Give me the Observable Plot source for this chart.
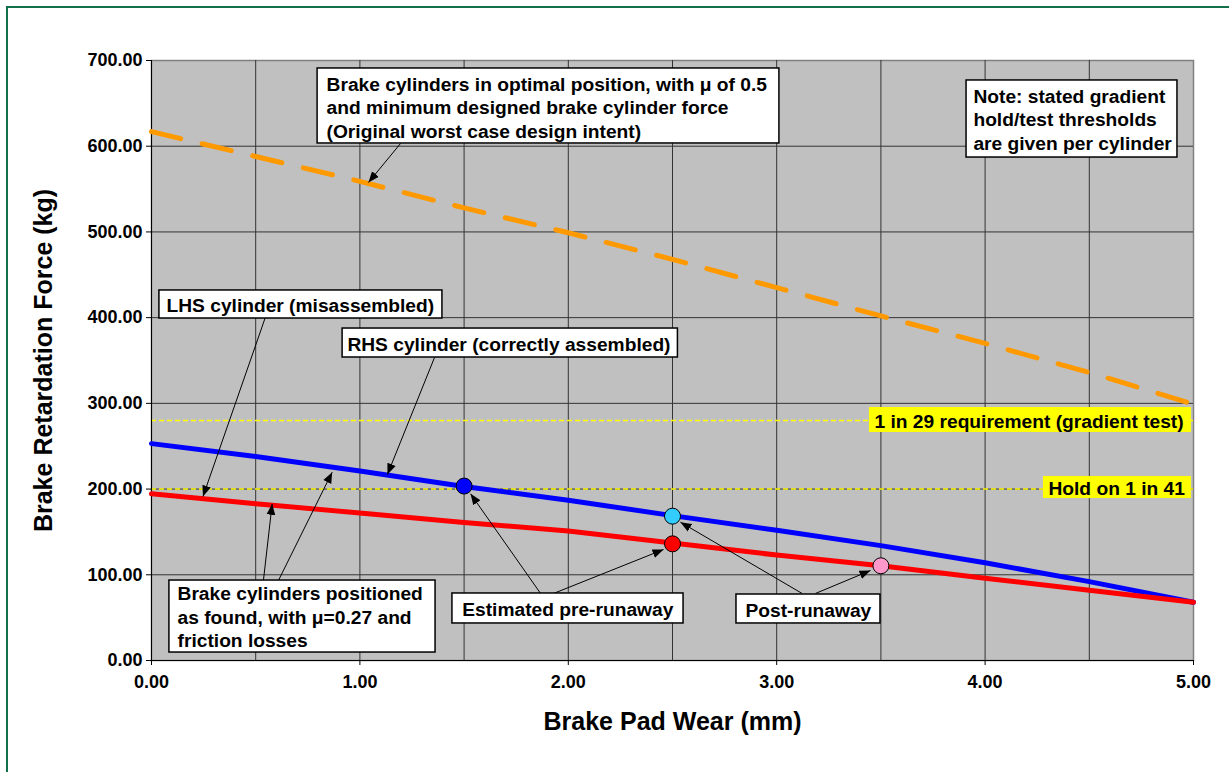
<!DOCTYPE html>
<html>
<head>
<meta charset="utf-8">
<script src="https://cdn.jsdelivr.net/npm/d3@7"></script>
<script src="https://cdn.jsdelivr.net/npm/@observablehq/plot@0.6"></script>
<style>
  html, body { margin: 0; padding: 0; background: #ffffff; overflow: hidden; }
  #wrap { position: relative; width: 1229px; height: 772px; }
  #border { position: absolute; left: 6px; top: 6px; width: 1300px; height: 900px; border: 2px solid #10704a; box-sizing: border-box; pointer-events: none; }
</style>
</head>
<body>
<div id="wrap"><div id="chart"></div><div id="border"></div></div>
<script>
// ---- data ----
const wear = [0, 0.5, 1, 1.5, 2, 2.5, 3, 3.5, 4, 4.5, 5];
const designIntent = [617, 588, 559, 528, 499, 468, 435, 402, 370, 336, 299];
const rhsForce = [253, 238, 221, 203, 187, 169, 152, 134, 114, 92, 68];
const lhsForce = [194.5, 183, 172, 161, 151, 137, 123, 110.5, 96, 82, 68];
const pointWear = [1.5, 2.5, 2.5, 3.5];
const pointForce = [203.5, 168.4, 136.1, 110.5];
const pointColor = ["#0000ff", "#33ccff", "#ff0000", "#ff99cc"];
const thresholds = [280, 200];
const xTicks = [0, 1, 2, 3, 4, 5];
const yTicks = [0, 100, 200, 300, 400, 500, 600, 700];
const xGrid = [0.5, 1, 1.5, 2, 2.5, 3, 3.5, 4, 4.5];
const yGrid = [100, 200, 300, 400, 500, 600];

// annotation layout (data units)
const boxes = [
  {x1: 0.797, x2: 3.013, y1: 603.2, y2: 690.7, tx: 0.840, ty: 646.0, fill: "white",
   text: "Brake cylinders in optimal position, with μ of 0.5\nand minimum designed brake cylinder force\n(Original worst case design intent)"},
  {x1: 3.911, x2: 4.923, y1: 586.8, y2: 676.7, tx: 3.944, ty: 631.8, fill: "white",
   text: "Note: stated gradient\nhold/test thresholds\nare given per cylinder"},
  {x1: 0.038, x2: 1.396, y1: 399.0, y2: 431.7, tx: 0.072, ty: 415.3, fill: "white",
   text: "LHS cylinder (misassembled)"},
  {x1: 0.917, x2: 2.526, y1: 353.5, y2: 387.3, tx: 0.940, ty: 370.4, fill: "white",
   text: "RHS cylinder (correctly assembled)"},
  {x1: 0.086, x2: 1.363, y1: 9.3, y2: 93.3, tx: 0.125, ty: 51.7, fill: "white",
   text: "Brake cylinders positioned\nas found, with μ=0.27 and\nfriction losses"},
  {x1: 1.444, x2: 2.553, y1: 43.2, y2: 78.2, tx: 1.491, ty: 60.7, fill: "white",
   text: "Estimated pre-runaway"},
  {x1: 2.807, x2: 3.498, y1: 43.2, y2: 77.0, tx: 2.850, ty: 60.0, fill: "white",
   text: "Post-runaway"},
  {x1: 3.445, x2: 4.990, y1: 266.0, y2: 295.2, tx: 3.469, ty: 280.0, fill: "#ffff00",
   text: "1 in 29 requirement (gradient test)"},
  {x1: 4.280, x2: 4.990, y1: 189.0, y2: 214.7, tx: 4.304, ty: 201.8, fill: "#ffff00",
   text: "Hold on 1 in 41"}
];
const arrows = [
  {x1: 1.195, y1: 603.2, x2: 1.041, y2: 557.7},
  {x1: 0.545, y1: 399.4, x2: 0.247, y2: 191.3},
  {x1: 1.358, y1: 353.5, x2: 1.132, y2: 217.0},
  {x1: 0.537, y1: 93.3, x2: 0.579, y2: 182.8},
  {x1: 0.609, y1: 93.3, x2: 0.867, y2: 219.7},
  {x1: 1.867, y1: 78.2, x2: 1.531, y2: 194.5},
  {x1: 1.929, y1: 78.2, x2: 2.457, y2: 129.5},
  {x1: 3.122, y1: 78.2, x2: 2.538, y2: 161.4},
  {x1: 3.186, y1: 78.2, x2: 3.450, y2: 105.0}
];

const design = wear.map((w, i) => ({w, f: designIntent[i]}));
const rhs = wear.map((w, i) => ({w, f: rhsForce[i]}));
const lhs = wear.map((w, i) => ({w, f: lhsForce[i]}));
const pts = pointWear.map((w, i) => ({w, f: pointForce[i], c: pointColor[i]}));

const font = "'Liberation Sans', Arial, sans-serif";

const chart = Plot.plot({
  width: 1229,
  height: 772,
  marginLeft: 151,
  marginRight: 36,
  marginTop: 60,
  marginBottom: 112,
  style: {fontFamily: font, background: "transparent", color: "black"},
  x: {domain: [0, 5]},
  y: {domain: [0, 700]},
  marks: [
    Plot.frame({fill: "#c0c0c0", stroke: "#808080", strokeWidth: 1.5}),
    Plot.ruleX(xGrid, {stroke: "#333333", strokeWidth: 1}),
    Plot.ruleY(yGrid, {stroke: "#333333", strokeWidth: 1}),
    Plot.ruleY(thresholds, {stroke: "#ffff00", strokeWidth: 1.5, strokeDasharray: "5,3"}),
    Plot.ruleX([0], {stroke: "black", strokeWidth: 1}),
    Plot.ruleY([0], {stroke: "black", strokeWidth: 1}),
    Plot.axisX({ticks: xTicks, tickFormat: d => d.toFixed(2), fontSize: 18, fontWeight: "bold",
      tickSize: 5, tickPadding: 10, label: null, stroke: "black"}),
    Plot.axisY({ticks: yTicks, tickFormat: d => d.toFixed(2), fontSize: 18, fontWeight: "bold",
      tickSize: 5, tickPadding: 4, label: null, stroke: "black"}),
    Plot.line(design, {x: "w", y: "f", stroke: "#ff9900", strokeWidth: 5, strokeDasharray: "30,22", strokeLinecap: "round"}),
    Plot.line(rhs, {x: "w", y: "f", stroke: "#0000ff", strokeWidth: 5}),
    Plot.line(lhs, {x: "w", y: "f", stroke: "#ff0000", strokeWidth: 5}),
    Plot.dot(pts, {x: "w", y: "f", r: 8, fill: "c", stroke: "black", strokeWidth: 1}),
    Plot.link(arrows, {x1: "x1", y1: "y1", x2: "x2", y2: "y2", stroke: "black", strokeWidth: 1, className: "ann-arrow"}),
    Plot.rect(boxes, {x1: "x1", x2: "x2", y1: "y1", y2: "y2", fill: d => d.fill,
      stroke: d => d.fill === "white" ? "black" : "none", strokeWidth: 1.5}),
    Plot.text(boxes, {x: "tx", y: "ty", text: "text", textAnchor: "start", lineAnchor: "middle",
      fontSize: 19.2, fontWeight: "bold", lineHeight: 1.22, fill: "black"}),
    Plot.text(["Brake Pad Wear (mm)"], {frameAnchor: "bottom", dy: 61, textAnchor: "middle", lineAnchor: "middle",
      fontSize: 25, fontWeight: "bold", fill: "black"}),
    Plot.text(["Brake Retardation Force (kg)"], {frameAnchor: "left", dx: -108, rotate: -90, textAnchor: "middle", lineAnchor: "middle",
      fontSize: 25, fontWeight: "bold", fill: "black"})
  ]
});

// filled arrow heads
const ns = "http://www.w3.org/2000/svg";
const defs = document.createElementNS(ns, "defs");
const marker = document.createElementNS(ns, "marker");
marker.setAttribute("id", "ahead");
marker.setAttribute("viewBox", "0 0 10 10");
marker.setAttribute("refX", "10");
marker.setAttribute("refY", "5");
marker.setAttribute("markerWidth", "11");
marker.setAttribute("markerHeight", "11");
marker.setAttribute("markerUnits", "userSpaceOnUse");
marker.setAttribute("orient", "auto");
const mp = document.createElementNS(ns, "path");
mp.setAttribute("d", "M0,1 L10,5 L0,9 Z");
mp.setAttribute("fill", "black");
marker.appendChild(mp);
defs.appendChild(marker);
chart.insertBefore(defs, chart.firstChild);
chart.querySelectorAll("g.ann-arrow").forEach(g => g.querySelectorAll("path").forEach(p => p.setAttribute("marker-end", "url(#ahead)")));

document.getElementById("chart").appendChild(chart);
</script>
</body>
</html>
